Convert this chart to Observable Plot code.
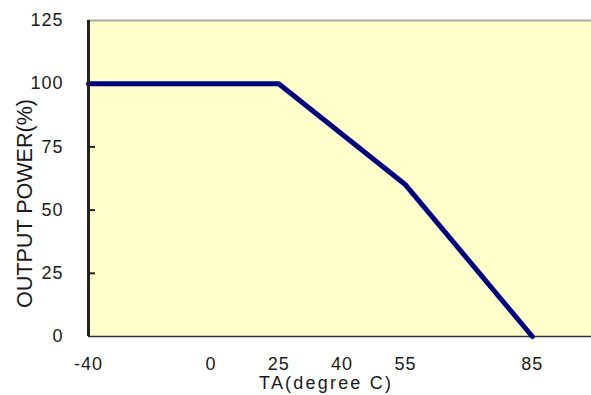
<!DOCTYPE html>
<html><head><meta charset="utf-8">
<script src="https://cdn.jsdelivr.net/npm/d3@7"></script>
<script src="https://cdn.jsdelivr.net/npm/@observablehq/plot@0.6"></script>
<style>body{margin:0;background:#fff}</style>
</head><body><div id="chart"></div>
<script>
const temperature = [-40, 25, 55, 85];
const outputPower = [100, 100, 60, 0];
const xTicks = [-40, 0, 25, 40, 55, 85];
const yTicks = [0, 25, 50, 75, 100, 125];
const yMarkTicks = [25, 50, 75];
const xLabel = "TA(degree C)";
const yLabel = "OUTPUT POWER(%)";
const data = temperature.map((t, i) => ({t, p: outputPower[i]}));

// The original axis is not linear: below 25 °C it is compressed.
const xBreaks = [-40, 0, 25, 85];
const xBreakUnits = [-20, 9, 25, 85];
const xWarp = d3.scaleLinear().domain(xBreaks).range(xBreakUnits);

const chart = Plot.plot({
  width: 591, height: 395,
  marginLeft: 88, marginRight: 0, marginTop: 20, marginBottom: 59,
  style: {fontFamily: "'Liberation Sans', Arial, sans-serif", background: "#fff", color: "#1a1a1a"},
  x: {transform: xWarp, domain: [-20, 99]},
  y: {domain: [0, 125]},
  marks: [
    Plot.frame({fill: "#ffffcc", stroke: "none"}),
    Plot.ruleY([125], {stroke: "#a8a8a8", strokeWidth: 2}),
    Plot.ruleY([0], {stroke: "#333", strokeWidth: 1.5}),
    Plot.ruleY(yMarkTicks, {x1: -40, x2: -40, insetRight: -7, stroke: "#222", strokeWidth: 2}),
    Plot.line(data, {x: "t", y: "p", stroke: "#000080", strokeWidth: 5, strokeLinejoin: "round"}),
    Plot.ruleX([-40], {stroke: "#222", strokeWidth: 3}),
    Plot.axisY({ticks: yTicks, tickSize: 0, tickPadding: 25, fontSize: 18, label: null, tickFormat: d => `${d}`}),
    Plot.axisX(xTicks, {tickSize: 0, tickPadding: 21, fontSize: 18, label: null, tickFormat: d => `${d}`}),
    Plot.text([xLabel], {frameAnchor: "bottom", textAnchor: "middle", lineAnchor: "middle", dx: -15, dy: 47, fontSize: 18}),
    Plot.text([yLabel], {frameAnchor: "left", textAnchor: "middle", lineAnchor: "middle", rotate: -90, dx: -64, dy: 25, fontSize: 22})
  ]
});
document.getElementById("chart").append(chart);
d3.select(chart).selectAll("text").each(function () {
  const t = this.textContent;
  if (t === yLabel) {
    this.setAttribute("textLength", 209);
    this.setAttribute("lengthAdjust", "spacingAndGlyphs");
  } else if (t === xLabel) {
    this.setAttribute("textLength", 132);
    this.setAttribute("lengthAdjust", "spacing");
  } else this.style.letterSpacing = "1px";
});
</script>
</body></html>
